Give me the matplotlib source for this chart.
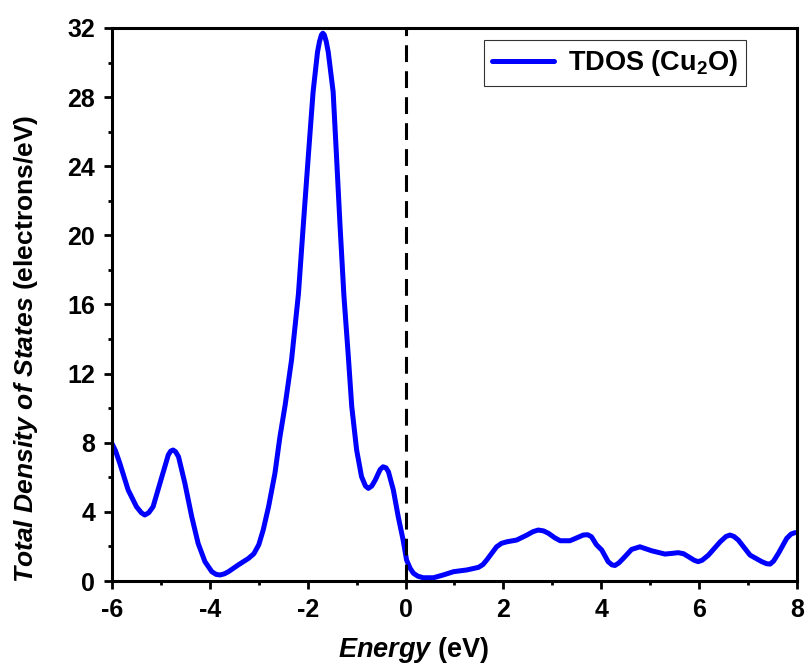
import numpy as np
import matplotlib.pyplot as plt
from matplotlib.ticker import MultipleLocator

plt.rcParams['font.family'] = ['Liberation Sans', 'DejaVu Sans']
plt.rcParams['font.weight'] = 'bold'
plt.rcParams['axes.unicode_minus'] = False
plt.rcParams['mathtext.fontset'] = 'custom'
plt.rcParams['mathtext.rm'] = 'Liberation Sans:bold'
plt.rcParams['mathtext.it'] = 'Liberation Sans:bold:italic'
plt.rcParams['mathtext.bf'] = 'Liberation Sans:bold'

# total DOS of Cu2O, energy relative to the Fermi level
energia = [-6.00, -5.93, -5.84, -5.67, -5.50, -5.40, -5.33, -5.25, -5.16, -4.98,
           -4.85, -4.80, -4.75, -4.70, -4.64, -4.51, -4.37, -4.24, -4.10, -3.96,
           -3.87, -3.79, -3.70, -3.62, -3.42, -3.21, -3.10, -3.00, -2.91, -2.80,
           -2.67, -2.57, -2.46, -2.33, -2.19, -2.09, -1.99, -1.89, -1.80, -1.76,
           -1.72, -1.69, -1.66, -1.62, -1.58, -1.48, -1.41, -1.34, -1.26, -1.17,
           -1.10, -1.00, -0.90, -0.82, -0.76, -0.69, -0.62, -0.52, -0.46, -0.40,
           -0.35, -0.25, -0.15, -0.05, 0.02, 0.09, 0.16, 0.25, 0.36, 0.57,
           0.77, 0.98, 1.25, 1.49, 1.58, 1.66, 1.76, 1.86, 1.96, 2.07,
           2.27, 2.48, 2.60, 2.71, 2.82, 2.92, 3.05, 3.16, 3.36, 3.50,
           3.63, 3.72, 3.80, 3.90, 4.01, 4.14, 4.22, 4.28, 4.36, 4.45,
           4.62, 4.79, 5.03, 5.30, 5.45, 5.57, 5.68, 5.78, 5.90, 5.98,
           6.06, 6.19, 6.43, 6.55, 6.63, 6.71, 6.80, 7.04, 7.28, 7.38,
           7.45, 7.52, 7.62, 7.79, 7.88, 7.96]
tdos = [7.95, 7.55, 6.81, 5.27, 4.30, 3.95, 3.82, 3.95, 4.30, 6.04,
        7.29, 7.52, 7.58, 7.48, 7.19, 5.65, 3.72, 2.18, 1.12, 0.54,
        0.38, 0.35, 0.42, 0.54, 0.93, 1.31, 1.58, 2.10, 2.95, 4.30,
        6.23, 8.30, 10.2, 12.8, 16.6, 20.6, 24.5, 28.3, 30.6, 31.2,
        31.6, 31.7, 31.6, 31.2, 30.6, 28.3, 24.5, 20.6, 16.5, 13.0,
        10.1, 7.58, 6.04, 5.50, 5.36, 5.50, 5.84, 6.45, 6.61, 6.55,
        6.32, 5.27, 3.72, 2.37, 1.22, 0.75, 0.45, 0.28, 0.19, 0.19,
        0.35, 0.54, 0.64, 0.79, 0.95, 1.22, 1.60, 1.98, 2.18, 2.27,
        2.37, 2.66, 2.85, 2.95, 2.90, 2.76, 2.50, 2.33, 2.33, 2.50,
        2.66, 2.68, 2.56, 2.10, 1.79, 1.12, 0.93, 0.90, 1.05, 1.31,
        1.83, 1.98, 1.75, 1.56, 1.60, 1.64, 1.58, 1.41, 1.20, 1.12,
        1.20, 1.50, 2.27, 2.58, 2.66, 2.58, 2.37, 1.50, 1.12, 1.00,
        0.98, 1.15, 1.60, 2.47, 2.72, 2.80]

fig = plt.figure(figsize=(8.08, 6.66), dpi=100)
ax = fig.add_axes([0.1386, 0.1276, 0.8478, 0.8304])

ax.plot(energia, tdos, color='blue', lw=3.6, solid_joinstyle='round',
        solid_capstyle='round', label='TDOS (Cu$_2$O)')
ax.axvline(0, color='black', lw=2.2, ls=(0, (5.5, 3)))

ax.set_xlim(-6, 8)
ax.set_ylim(0, 32)
ax.xaxis.set_major_locator(MultipleLocator(2))
ax.xaxis.set_minor_locator(MultipleLocator(1))
ax.yaxis.set_major_locator(MultipleLocator(4))
ax.yaxis.set_minor_locator(MultipleLocator(2))
ax.tick_params(which='both', direction='out', width=2, labelsize=18,
               top=False, right=False)
ax.tick_params(which='major', length=6, pad=6)
ax.tick_params(which='minor', length=3)
for s in ax.spines.values():
    s.set_linewidth(2.2)

ax.set_xlabel(r'$\mathit{Energy}$ (eV)', fontsize=19.5, fontweight='bold')
ax.set_ylabel(r'$\mathit{Total\ Density\ of\ States}$ (electrons/eV)',
              fontsize=19, fontweight='bold')
ax.xaxis.set_label_coords(0.441, -0.098)
ax.yaxis.set_label_coords(-0.105, 0.42)

leg = ax.legend(loc='upper right', bbox_to_anchor=(0.938, 0.993), fontsize=19.5,
                frameon=True, fancybox=False, handlelength=2.3,
                borderpad=0.3, handletextpad=0.5, borderaxespad=0.3)
leg.get_frame().set_edgecolor('black')
leg.get_frame().set_linewidth(0.8)
for t in leg.get_texts():
    t.set_fontweight('bold')

fig.savefig('out.png', dpi=100)
